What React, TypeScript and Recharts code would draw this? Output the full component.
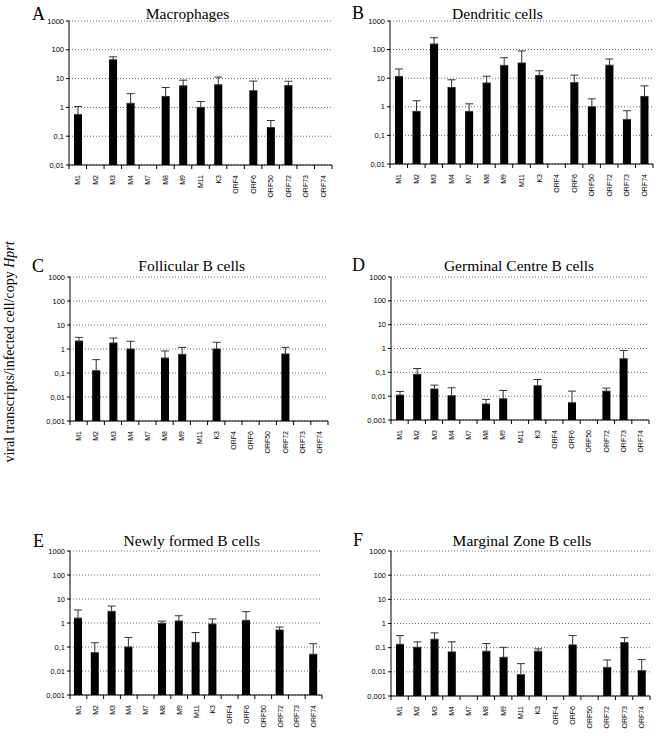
import React from 'react';
import { BarChart, Bar, XAxis, YAxis, CartesianGrid, ErrorBar } from 'recharts';

// ---------- data ----------
const categories = ['M1', 'M2', 'M3', 'M4', 'M7', 'M8', 'M9', 'M11', 'K3', 'ORF4', 'ORF6', 'ORF50', 'ORF72', 'ORF73', 'ORF74'];

const macrophages = [0.57, null, 45, 1.38, null, 2.4, 5.6, 1.0, 6.1, null, 3.8, 0.2, 5.7, null, null];
const macrophagesErrTop = [1.08, null, 57, 3.0, null, 4.9, 8.8, 1.6, 11.3, null, 8.2, 0.35, 8.1, null, null];

const dendritic = [11.5, 0.69, 157, 4.7, 0.69, 6.8, 28, 34, 12.5, null, 7.0, 1.0, 28.5, 0.36, 2.3];
const dendriticErrTop = [21, 1.62, 260, 8.8, 1.27, 11.7, 52, 90, 18.2, null, 12.8, 1.9, 47, 0.73, 5.4];

const follicular = [2.15, 0.125, 1.78, 1.0, null, 0.42, 0.6, null, 1.0, null, null, null, 0.62, null, null];
const follicularErrTop = [3.05, 0.36, 2.85, 2.1, null, 0.83, 1.17, null, 1.9, null, null, null, 1.17, null, null];

const germinal = [0.0111, 0.082, 0.02, 0.0104, null, 0.0047, 0.0078, null, 0.0273, null, 0.0053, null, 0.0163, 0.37, null];
const germinalErrTop = [0.0158, 0.145, 0.029, 0.0225, null, 0.0073, 0.0174, null, 0.05, null, 0.0163, null, 0.0218, 0.82, null];

const newlyFormed = [1.6, 0.058, 3.06, 0.1, null, 0.97, 1.21, 0.156, 0.91, null, 1.29, null, 0.51, null, 0.05];
const newlyFormedErrTop = [3.5, 0.15, 5.1, 0.25, null, 1.2, 2.0, 0.4, 1.47, null, 2.96, null, 0.68, null, 0.137];

const marginalZone = [0.138, 0.104, 0.224, 0.0665, null, 0.071, 0.04, 0.0076, 0.071, null, 0.13, null, 0.0153, 0.162, 0.0112];
const marginalZoneErrTop = [0.316, 0.174, 0.41, 0.174, null, 0.148, 0.104, 0.0218, 0.089, null, 0.316, null, 0.031, 0.26, 0.032];

const ticksTop = [0.01, 0.1, 1, 10, 100, 1000];
const ticksLower = [0.001, 0.01, 0.1, 1, 10, 100, 1000];

const panelTitles = ['Macrophages', 'Dendritic cells', 'Follicular B cells', 'Germinal Centre B cells', 'Newly formed B cells', 'Marginal Zone B cells'];
const panelLetters = ['A', 'B', 'C', 'D', 'E', 'F'];
const yAxisTitle = 'viral transcripts/infected cell/copy ';
const yAxisTitleItalic = 'Hprt';

// ---------- layout (positions only) ----------
const layout = [
  { L: 69, T: 21, R: 332, B: 165, tx: 187.5, ty: 19, lx: 32, ly: 20 },
  { L: 390, T: 21, R: 653, B: 164, tx: 497.5, ty: 19, lx: 352, ly: 19 },
  { L: 70, T: 277, R: 328, B: 421, tx: 191.7, ty: 271, lx: 32, ly: 271.5 },
  { L: 391, T: 277, R: 649, B: 420, tx: 519, ty: 271, lx: 352, ly: 271 },
  { L: 70, T: 551, R: 322, B: 695, tx: 191.7, ty: 546, lx: 33, ly: 546.5 },
  { L: 391, T: 551, R: 650, B: 696, tx: 522, ty: 546, lx: 353, ly: 546 },
];

const seriesList = [
  { values: macrophages, errTop: macrophagesErrTop, ticks: ticksTop },
  { values: dendritic, errTop: dendriticErrTop, ticks: ticksTop },
  { values: follicular, errTop: follicularErrTop, ticks: ticksLower },
  { values: germinal, errTop: germinalErrTop, ticks: ticksLower },
  { values: newlyFormed, errTop: newlyFormedErrTop, ticks: ticksLower },
  { values: marginalZone, errTop: marginalZoneErrTop, ticks: ticksLower },
];

const SANS = 'Liberation Sans, Arial, sans-serif';
const SERIF = 'Liberation Serif, Times New Roman, serif';

const fmt = (v: number) => String(v).replace('.', ',');

const makeXTick = (bw: number, n: number) => (props: any) => {
  const { x, y, payload, index } = props;
  const ty = y + 10;
  return (
    <g>
      <line x1={x - bw / 2} x2={x - bw / 2} y1={y} y2={y + 4} stroke="#000" strokeWidth={1} />
      {index === n - 1 && <line x1={x + bw / 2} x2={x + bw / 2} y1={y} y2={y + 4} stroke="#000" strokeWidth={1} />}
      <text
        x={x}
        y={ty}
        transform={`rotate(-90, ${x}, ${ty})`}
        textAnchor="end"
        dominantBaseline="central"
        fontSize={7}
        fontFamily={SANS}
        fill="#000"
      >
        {payload.value}
      </text>
    </g>
  );
};

const BarShape = (props: any) => {
  const { x, y, width, height, value } = props;
  const v = Array.isArray(value) ? value[1] : value;
  if (v == null || !isFinite(y) || !isFinite(height) || height <= 0) return null;
  return <rect x={x} y={y} width={width} height={height} fill="#000" />;
};

function Panel({ idx }: { idx: number }) {
  const lay = layout[idx];
  const s = seriesList[idx];
  const data = categories.map((c, i) => {
    const v = s.values[i];
    const e = s.errTop[i];
    return {
      cat: c,
      value: v,
      err: v != null && e != null ? [0, e - v] : null,
    };
  });
  const plotW = lay.R - lay.L;
  const plotH = lay.B - lay.T;
  const bw = plotW / categories.length;
  const yW = 40;
  const mLeft = 10;
  const mTop = 10;
  const mRight = 5;
  const xH = 45;
  const w = plotW + yW + mLeft + mRight;
  const h = plotH + mTop + xH;
  return (
    <div style={{ position: 'absolute', left: lay.L - yW - mLeft, top: lay.T - mTop, width: w, height: h }}>
      <BarChart width={w} height={h} data={data} margin={{ top: mTop, right: mRight, bottom: 0, left: mLeft }}>
        <CartesianGrid vertical={false} strokeDasharray="1 2" stroke="#666" />
        <XAxis
          dataKey="cat"
          interval={0}
          tickLine={false}
          tickSize={0}
          tickMargin={0}
          height={xH}
          axisLine={{ stroke: '#000' }}
          tick={makeXTick(bw, categories.length)}
        />
        <YAxis
          type="number"
          scale="log"
          domain={[s.ticks[0], 1000]}
          allowDataOverflow
          ticks={s.ticks}
          interval={0}
          tickFormatter={fmt}
          width={yW}
          tickSize={3}
          tickMargin={2}
          axisLine={{ stroke: '#000' }}
          tickLine={{ stroke: '#000' }}
          tick={{ fontSize: 7.5, fill: '#000', fontFamily: SANS }}
        />
        <Bar dataKey="value" barSize={8} fill="#000" isAnimationActive={false} shape={BarShape}>
          <ErrorBar dataKey="err" width={4} strokeWidth={1} stroke="#333" direction="y" isAnimationActive={false} />
        </Bar>
      </BarChart>
    </div>
  );
}

export default function App() {
  return (
    <div style={{ position: 'absolute', left: 0, top: 0, width: 660, height: 736, background: '#fff', overflow: 'hidden' }}>
      {layout.map((_, i) => (
        <Panel key={i} idx={i} />
      ))}
      <svg width={660} height={736} style={{ position: 'absolute', left: 0, top: 0, pointerEvents: 'none' }}>
        {layout.map((lay, i) => (
          <g key={i}>
            <text x={lay.lx} y={lay.ly} fontSize={18} fontFamily={SERIF} fill="#000">
              {panelLetters[i]}
            </text>
            <text x={lay.tx} y={lay.ty} fontSize={15.5} fontFamily={SERIF} fill="#000" textAnchor="middle">
              {panelTitles[i]}
            </text>
          </g>
        ))}
        <text
          x={14}
          y={352}
          transform="rotate(-90, 14, 352)"
          textAnchor="middle"
          fontSize={14}
          fontFamily={SERIF}
          fill="#000"
        >
          {yAxisTitle}
          <tspan fontStyle="italic">{yAxisTitleItalic}</tspan>
        </text>
      </svg>
    </div>
  );
}
